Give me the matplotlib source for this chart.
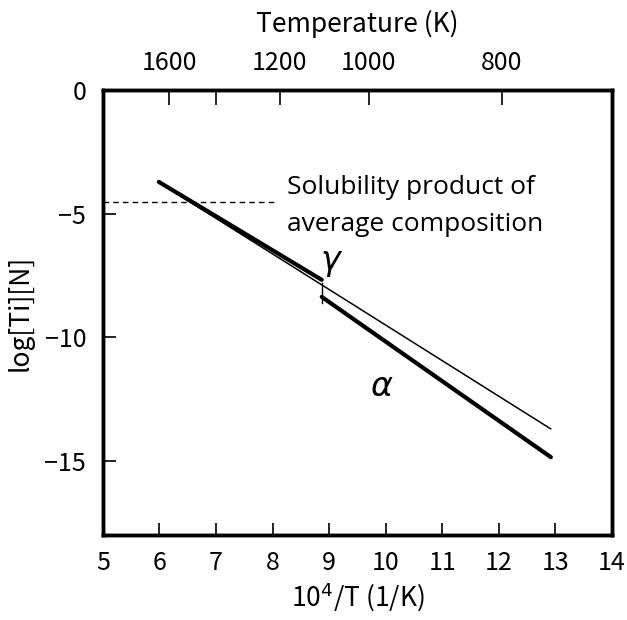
import matplotlib
matplotlib.use("Agg")
import matplotlib.pyplot as plt

# Data
gamma_thin_x = [5.99, 12.92]
gamma_thin_y = [-3.74, -13.71]
thick_gamma_x = [5.99, 8.87]
thick_gamma_y = [-3.72, -7.68]
thick_alpha_x = [8.87, 12.92]
thick_alpha_y = [-8.37, -14.85]
avg_comp_x = [5.0, 8.07]
avg_comp_y = [-4.53, -4.53]
boundary_x = [8.87, 8.87]
boundary_y = [-7.8, -8.6]

x_ticks = [5, 6, 7, 8, 9, 10, 11, 12, 13, 14]
y_ticks = [0, -5, -10, -15]
y_tick_labels = ["0", "\u22125", "\u221210", "\u221215"]
top_tick_pos = [6.17, 7.0, 8.13, 9.70, 12.05]
top_tick_labels = ["1600", "", "1200", "1000", "800"]

plt.rcParams['font.family'] = ['Noto Sans CJK JP', 'DejaVu Sans']

fig = plt.figure(figsize=(6.27, 6.20), dpi=100)
ax = fig.add_axes([0.164, 0.137, 0.812, 0.718])

ax.plot(gamma_thin_x, gamma_thin_y, color='black', lw=1.1, solid_capstyle='round')
ax.plot(thick_gamma_x, thick_gamma_y, color='black', lw=3.0, solid_capstyle='round')
ax.plot(thick_alpha_x, thick_alpha_y, color='black', lw=3.0, solid_capstyle='round')
ax.plot(avg_comp_x, avg_comp_y, color='black', lw=1.0, ls=(0, (4, 3)))
ax.plot(boundary_x, boundary_y, color='black', lw=1.0)

ax.set_xlim(5, 14)
ax.set_ylim(-18, 0)
ax.set_xticks(x_ticks)
ax.set_yticks(y_ticks)
ax.set_yticklabels(y_tick_labels)
ax.tick_params(direction='in', length=9, width=1.2, labelsize=18, pad=11)
ax.tick_params(axis='y', pad=12)

for s in ax.spines.values():
    s.set_linewidth(2.5)

ax.set_xlabel("10$^4$/T (1/K)", fontsize=19, labelpad=3)
ax.set_ylabel("log[Ti][N]", fontsize=19)
ax.yaxis.set_label_coords(-0.135, 0.5)

top = ax.twiny()
top.set_xlim(ax.get_xlim())
top.set_xticks(top_tick_pos)
top.set_xticklabels(top_tick_labels)
top.tick_params(direction='in', length=11, width=1.2, labelsize=18, pad=10)
top.set_xlabel("Temperature (K)", fontsize=19, labelpad=13)
for s in top.spines.values():
    s.set_linewidth(2.5)

ax.text(8.25, -3.95, "Solubility product of", fontsize=19, family='Open Sans',
        ha='left', va='center')
ax.text(8.25, -5.45, "average composition", fontsize=19, family='Open Sans',
        ha='left', va='center')
ax.text(9.05, -6.95, "$\\gamma$", fontsize=24, ha='center', va='center')
ax.text(9.93, -12.0, "$\\alpha$", fontsize=24, ha='center', va='center')

fig.savefig("out.png", dpi=100)
